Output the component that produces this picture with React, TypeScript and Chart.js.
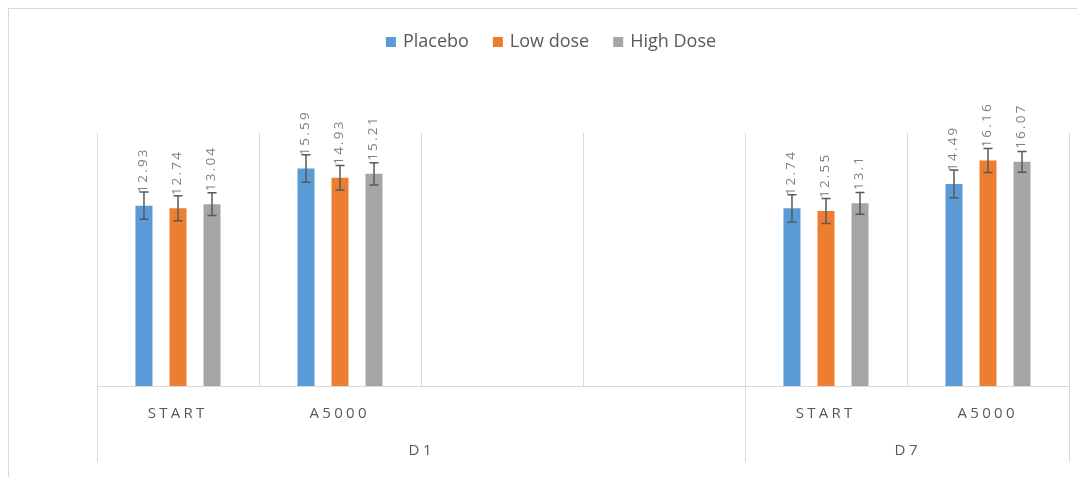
import React, { useEffect, useRef } from "react";
import { Chart, registerables } from "chart.js";

Chart.register(...registerables);

const categories = ["START", "A5000", "", "", "START", "A5000"];
const groupLabels = ["D1", "D7"];
const groupSizes = [4, 2];
const seriesNames = ["Placebo", "Low dose", "High Dose"];
const placebo = [12.93, 15.59, null, null, 12.74, 14.49];
const lowDose = [12.74, 14.93, null, null, 12.55, 16.16];
const highDose = [13.04, 15.21, null, null, 13.1, 16.07];
const placeboErr = [0.98, 0.99, null, null, 0.98, 1.0];
const lowDoseErr = [0.9, 0.88, null, null, 0.89, 0.86];
const highDoseErr = [0.82, 0.79, null, null, 0.78, 0.75];

const colors = ["#5b9bd5", "#ed7d31", "#a5a5a5"];
const errorSets = [placeboErr, lowDoseErr, highDoseErr];
const FONT = "'Open Sans', 'Noto Sans', sans-serif";

function spacedText(ctx: CanvasRenderingContext2D, text: string, cx: number, y: number, spacing: number) {
  (ctx as any).letterSpacing = spacing + "px";
  const w = ctx.measureText(text).width - spacing;
  ctx.textAlign = "left";
  ctx.fillText(text, cx - w / 2, y);
  (ctx as any).letterSpacing = "0px";
}

const overlay = {
  id: "overlay",
  afterDatasetsDraw(chart: any) {
    const ctx: CanvasRenderingContext2D = chart.ctx;
    const ys = chart.scales.y;
    chart.data.datasets.forEach((ds: any, di: number) => {
      const meta = chart.getDatasetMeta(di);
      const errs = errorSets[di];
      meta.data.forEach((bar: any, i: number) => {
        const v = ds.data[i];
        if (v == null) return;
        const e = errs[i] as number;
        const top = ys.getPixelForValue(v + e);
        const bot = ys.getPixelForValue(v - e);
        const bx = bar.x;
        // label
        ctx.save();
        ctx.fillStyle = "#7f7f7f";
        ctx.font = "13.5px " + FONT;
        (ctx as any).letterSpacing = "2.2px";
        ctx.translate(bx - 0.5, bar.y - 13);
        ctx.rotate(-Math.PI / 2);
        ctx.textAlign = "left";
        ctx.textBaseline = "middle";
        ctx.fillText(String(v), 0, 0);
        ctx.restore();
        // error bar
        ctx.save();
        ctx.strokeStyle = "#595959";
        ctx.lineWidth = 1.5;
        ctx.beginPath();
        ctx.moveTo(bx, top);
        ctx.lineTo(bx, bot);
        ctx.moveTo(bx - 4.5, top);
        ctx.lineTo(bx + 4.5, top);
        ctx.moveTo(bx - 4.5, bot);
        ctx.lineTo(bx + 4.5, bot);
        ctx.stroke();
        ctx.restore();
      });
    });
  },
  afterDraw(chart: any) {
    const ctx: CanvasRenderingContext2D = chart.ctx;
    const xs = chart.scales.x;
    const area = chart.chartArea;
    const half = (xs.getPixelForValue(1) - xs.getPixelForValue(0)) / 2;
    ctx.save();
    ctx.fillStyle = "#595959";
    ctx.textBaseline = "alphabetic";
    ctx.font = "15px " + FONT;
    categories.forEach((c, i) => {
      if (!c) return;
      spacedText(ctx, c, xs.getPixelForValue(i) - 2, area.bottom + 32, 3.3);
    });
    // groups
    let s = 0;
    const edges: number[] = [];
    groupLabels.forEach((g, gi) => {
      const n = groupSizes[gi];
      const l = xs.getPixelForValue(s) - half;
      const r = xs.getPixelForValue(s + n - 1) + half;
      if (gi === 0) edges.push(l);
      edges.push(r);
      spacedText(ctx, g, (l + r) / 2 - 1, area.bottom + 69, 3.5);
      s += n;
    });
    ctx.strokeStyle = "#d9d9d9";
    ctx.lineWidth = 1;
    ctx.beginPath();
    edges.forEach((e) => {
      const px = Math.round(e) + 0.5;
      ctx.moveTo(px, area.bottom);
      ctx.lineTo(px, area.bottom + 76);
    });
    ctx.stroke();
    // legend
    ctx.font = "18px " + FONT;
    ctx.textBaseline = "middle";
    const widths = seriesNames.map((n) => ctx.measureText(n).width);
    const total = widths.reduce((a, b) => a + b, 0) + seriesNames.length * 17 + (seriesNames.length - 1) * 24;
    let lx = 542 - total / 2;
    const ly = 33;
    seriesNames.forEach((n, i) => {
      ctx.fillStyle = colors[i];
      ctx.fillRect(lx, ly - 5, 10, 10);
      ctx.fillStyle = "#595959";
      ctx.textAlign = "left";
      ctx.fillText(n, lx + 17, ly);
      lx += 17 + widths[i] + 24;
    });
    ctx.restore();
  },
};

export default function App() {
  const ref = useRef<HTMLCanvasElement | null>(null);
  useEffect(() => {
    if (!ref.current) return;
    const chart = new Chart(ref.current, {
      type: "bar",
      data: {
        labels: categories,
        datasets: [placebo, lowDose, highDose].map((d, i) => ({
          label: seriesNames[i],
          data: d,
          backgroundColor: colors[i],
          borderWidth: 0,
          categoryPercentage: 0.63,
          barPercentage: 0.5,
        })),
      },
      options: {
        animation: false,
        responsive: false,
        maintainAspectRatio: false,
        layout: { padding: { left: 88, right: 8, top: 124, bottom: 91 } },
        plugins: { legend: { display: false }, tooltip: { enabled: false } },
        scales: {
          x: {
            grid: { display: true, color: "#d9d9d9", drawTicks: false, offset: true },
            border: { display: true, color: "#d9d9d9" },
            ticks: { display: false },
          },
          y: { display: false, min: 0, max: 18.14 },
        },
      },
      plugins: [overlay],
    } as any);
    return () => chart.destroy();
  }, []);
  return (
    <div
      style={{
        position: "fixed",
        left: 8,
        top: 8,
        width: 1069,
        height: 469,
        boxSizing: "border-box",
        borderTop: "1px solid #d9d9d9",
        borderLeft: "1px solid #d9d9d9",
        background: "#fff",
      }}
    >
      <canvas ref={ref} width={1068} height={468} style={{ display: "block" }} />
    </div>
  );
}
